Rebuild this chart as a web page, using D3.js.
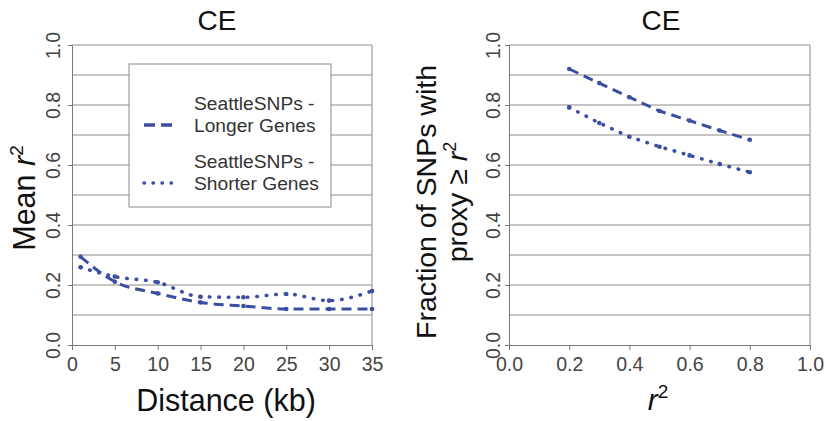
<!DOCTYPE html>
<html>
<head>
<meta charset="utf-8">
<title>CE</title>
<script src="https://cdn.jsdelivr.net/npm/d3@7"></script>
<style>
  body { margin: 0; background: #fff; }
  text { font-family: "Liberation Sans", Arial, sans-serif; }
</style>
</head>
<body>
<script>
// left panel: mean r2 vs distance
var distKb = [1, 5, 10, 15, 20, 25, 30, 35];
var longerMean = [0.294, 0.211, 0.172, 0.142, 0.13, 0.12, 0.12, 0.12];
var shorterMean = [0.259, 0.228, 0.209, 0.161, 0.159, 0.17, 0.148, 0.18];
var distTicks = [0, 5, 10, 15, 20, 25, 30, 35];

// right panel: fraction with proxy >= r2
var r2Levels = [0.2, 0.3, 0.4, 0.5, 0.6, 0.7, 0.8];
var longerFrac = [0.92, 0.873, 0.826, 0.78, 0.748, 0.715, 0.684];
var shorterFrac = [0.792, 0.74, 0.694, 0.661, 0.632, 0.603, 0.576];
var r2Ticks = [0, 0.2, 0.4, 0.6, 0.8, 1.0];

var yTicks = [0, 0.2, 0.4, 0.6, 0.8, 1.0];
var gridVals = [0.1, 0.2, 0.3, 0.4, 0.5, 0.6, 0.7, 0.8, 0.9, 1.0];
var legendNames = [["SeattleSNPs -", "Longer Genes"], ["SeattleSNPs -", "Shorter Genes"]];

var W = 826, H = 421;
var lineColor = "#3b4ea3";
var dashed = "10,6", dotted = "0.5,9";

var svg = d3.select("body").append("svg")
    .attr("width", W)
    .attr("height", H);

var y = d3.scaleLinear().domain([0, 1]).range([345, 45]);

function panel(x0, x1, xDomain, xTicks, xFmt, yLabelX) {
  var x = d3.scaleLinear().domain(xDomain).range([x0, x1]);
  var g = svg.append("g");

  // gridlines
  g.selectAll("line.grid")
    .data(gridVals)
    .enter().append("line")
    .attr("class", "grid")
    .attr("x1", x0).attr("x2", x1)
    .attr("y1", function(d) { return y(d); })
    .attr("y2", function(d) { return y(d); })
    .attr("stroke", "#8a8a8a")
    .attr("stroke-width", 1);

  // right border
  g.append("line")
    .attr("x1", x1).attr("x2", x1).attr("y1", y(1)).attr("y2", y(0))
    .attr("stroke", "#8a8a8a");

  // x axis
  var xAxis = d3.axisBottom(x).tickValues(xTicks).tickFormat(xFmt).tickSize(5).tickSizeOuter(0);
  var gx = g.append("g").attr("transform", "translate(0," + y(0) + ")").call(xAxis);
  gx.select(".domain").attr("stroke", "#777");
  gx.selectAll(".tick line").attr("stroke", "#777");
  gx.selectAll("text")
    .attr("font-size", 19.5)
    .attr("fill", "#444")
    .attr("dy", "0.9em");

  // y axis with rotated labels
  var yAxis = d3.axisLeft(y).tickValues(yTicks).tickFormat(d3.format(".1f")).tickSize(4).tickSizeOuter(0);
  var gy = g.append("g").attr("transform", "translate(" + x0 + ",0)").call(yAxis);
  gy.select(".domain").attr("stroke", "#777");
  gy.selectAll(".tick line").attr("stroke", "#777");
  gy.selectAll("text")
    .attr("font-size", 19.5)
    .attr("fill", "#444")
    .attr("x", null).attr("dy", null)
    .attr("text-anchor", "middle")
    .attr("transform", "translate(" + (yLabelX - x0 + 7) + ",0) rotate(-90)");

  return { x: x, g: g };
}

function drawSeries(p, xs, ys, dash, curve) {
  var pts = xs.map(function(d, i) { return [d, ys[i]]; });
  var line = d3.line()
    .x(function(d) { return p.x(d[0]); })
    .y(function(d) { return y(d[1]); })
    .curve(curve);
  p.g.append("path")
    .datum(pts)
    .attr("d", line)
    .attr("fill", "none")
    .attr("stroke", lineColor)
    .attr("stroke-width", dash === dotted ? 3.6 : 3)
    .attr("stroke-linecap", dash === dotted ? "round" : "butt")
    .attr("stroke-dasharray", dash);
  p.g.selectAll(null)
    .data(pts)
    .enter().append("circle")
    .attr("cx", function(d) { return p.x(d[0]); })
    .attr("cy", function(d) { return y(d[1]); })
    .attr("r", 2.3)
    .attr("fill", lineColor);
}

// ---- left panel
var left = panel(72, 372, [0, 35], distTicks, d3.format("d"), 53);
drawSeries(left, distKb, longerMean, dashed, d3.curveMonotoneX);
drawSeries(left, distKb, shorterMean, dotted, d3.curveMonotoneX);

// legend
var lg = svg.append("g");
lg.append("rect")
  .attr("x", 129).attr("y", 64).attr("width", 202).attr("height", 143)
  .attr("fill", "#fff").attr("stroke", "#8a8a8a");
[dashed, dotted].forEach(function(dash, i) {
  var base = 110 + i * 58;
  lg.append("line")
    .attr("x1", 144).attr("x2", 177)
    .attr("y1", base + 15).attr("y2", base + 15)
    .attr("stroke", lineColor).attr("stroke-width", 3.4)
    .attr("stroke-linecap", dash === dotted ? "round" : "butt")
    .attr("stroke-dasharray", dash === dashed ? "11,6" : "0.5,8.5");
  legendNames[i].forEach(function(t, j) {
    lg.append("text")
      .attr("x", 194).attr("y", base + j * 22)
      .attr("font-size", 19.2).attr("fill", "#333")
      .text(t);
  });
});

// titles left
svg.append("text").attr("x", 217).attr("y", 30).attr("text-anchor", "middle")
  .attr("font-size", 28).attr("fill", "#111").text("CE");
svg.append("text").attr("x", 226).attr("y", 411).attr("text-anchor", "middle")
  .attr("font-size", 30.5).attr("fill", "#111").text("Distance (kb)");
var yt = svg.append("text")
  .attr("transform", "translate(35,198) rotate(-90)")
  .attr("text-anchor", "middle")
  .attr("font-size", 30.5).attr("fill", "#111");
yt.append("tspan").text("Mean ");
yt.append("tspan").attr("font-style", "italic").text("r");
yt.append("tspan").attr("font-size", 19).attr("dy", -12).text("2");

// ---- right panel
var right = panel(509, 810, [0, 1], r2Ticks, d3.format(".1f"), 493);
drawSeries(right, r2Levels, longerFrac, dashed, d3.curveLinear);
drawSeries(right, r2Levels, shorterFrac, dotted, d3.curveLinear);

svg.append("text").attr("x", 661).attr("y", 30).attr("text-anchor", "middle")
  .attr("font-size", 28).attr("fill", "#111").text("CE");

var rx = svg.append("text").attr("x", 658).attr("y", 410).attr("text-anchor", "middle")
  .attr("font-size", 30).attr("fill", "#111");
rx.append("tspan").attr("font-style", "italic").text("r");
rx.append("tspan").attr("font-size", 19).attr("dy", -12).text("2");

svg.append("text")
  .attr("transform", "translate(436,202) rotate(-90)")
  .attr("text-anchor", "middle")
  .attr("font-size", 28.5).attr("fill", "#111")
  .text("Fraction of SNPs with");
var ry2 = svg.append("text")
  .attr("transform", "translate(467,202) rotate(-90)")
  .attr("text-anchor", "middle")
  .attr("font-size", 28.5).attr("fill", "#111");
ry2.append("tspan").text("proxy \u2265 ");
ry2.append("tspan").attr("font-style", "italic").text("r");
ry2.append("tspan").attr("font-size", 18).attr("dy", -11).text("2");
</script>
</body>
</html>
